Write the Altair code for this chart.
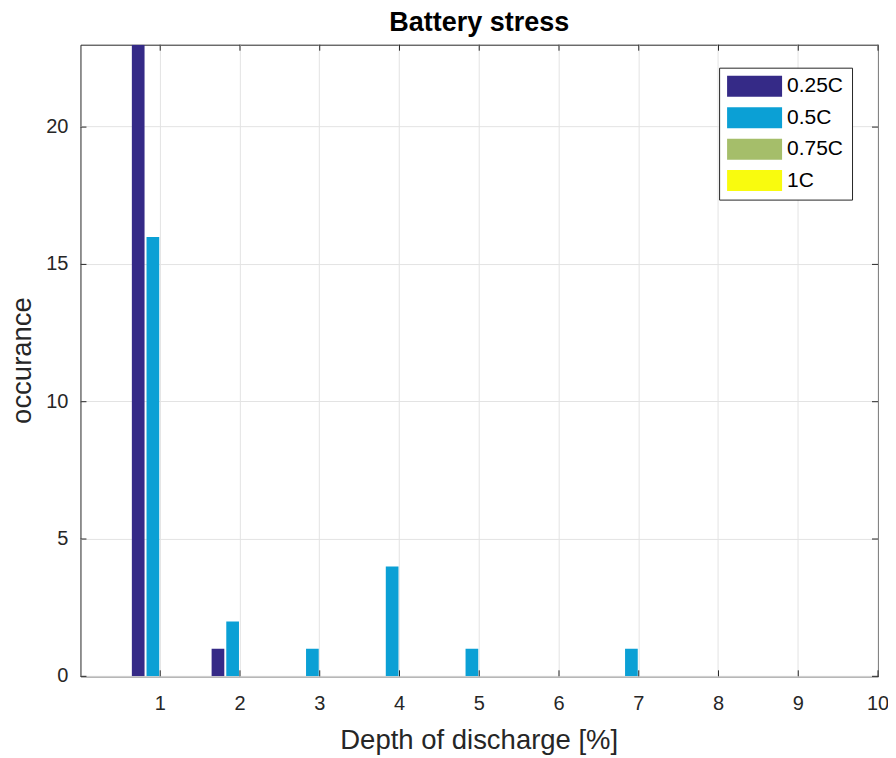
import altair as alt
import pandas as pd

# ---- data ----
dod = [1, 2, 3, 4, 5, 6, 7, 8, 9]
series = ["0.25C", "0.5C", "0.75C", "1C"]
colors = ["#352a87", "#0ba0d5", "#a5be6a", "#f9fb0e"]
c025 = [23, 1, 0, 0, 0, 0, 0, 0, 0]
c050 = [16, 2, 1, 4, 1, 0, 1, 0, 0]
c075 = [0, 0, 0, 0, 0, 0, 0, 0, 0]
c100 = [0, 0, 0, 0, 0, 0, 0, 0, 0]
x_ticks = [1, 2, 3, 4, 5, 6, 7, 8, 9, 10]
y_ticks = [0, 5, 10, 15, 20]

rows = []
for i, (name, vals) in enumerate(zip(series, [c025, c050, c075, c100])):
    for d, v in zip(dod, vals):
        rows.append({"dod": d, "series": name, "idx": i, "value": v})
df = pd.DataFrame(rows)

W, H = 798, 632
FONT = "Liberation Sans"
DARK = "#262626"

xscale = alt.Scale(domain=[0, 10], nice=False, zero=False, padding=0)
yscale = alt.Scale(domain=[0, 23], nice=False, padding=0)
xaxis = alt.Axis(values=x_ticks, title="Depth of discharge [%]", grid=True,
                 ticks=False, domain=False, labelPadding=18, titlePadding=13, format="d",
                 labelFlush=False,
                 labelFont=FONT, labelFontSize=20, labelColor=DARK,
                 titleFont=FONT, titleFontSize=27.5, titleColor=DARK, titleFontWeight="normal",
                 gridColor="#e3e3e3", gridWidth=1, translate=0)
yaxis = alt.Axis(values=y_ticks, title="occurance", grid=True,
                 ticks=False, domain=False, labelPadding=12, titlePadding=9,
                 labelFlush=False,
                 labelFont=FONT, labelFontSize=20, labelColor=DARK,
                 titleFont=FONT, titleFontSize=27.5, titleColor=DARK, titleFontWeight="normal",
                 gridColor="#e3e3e3", gridWidth=1, translate=0)

bars = alt.Chart(df).transform_calculate(
    xpos="datum.dod + (datum.idx - 1.5) * 0.184"
).mark_bar(size=12.7, clip=True).encode(
    x=alt.X("xpos:Q", scale=xscale, axis=xaxis),
    y=alt.Y("value:Q", scale=yscale, axis=yaxis),
    color=alt.Color("series:N", sort=series,
                    scale=alt.Scale(domain=series, range=colors),
                    legend=alt.Legend(title=None, orient="none", legendX=639, legendY=23,
                                      symbolType="M-1,-1H4.24V1H-1Z", symbolSize=441,
                                      symbolStrokeWidth=0, symbolOpacity=1,
                                      labelFontSize=21, labelFont=FONT, labelColor="black",
                                      labelOffset=39, rowPadding=9.5, padding=8,
                                      strokeColor=DARK, fillColor="white")),
)

xt = pd.DataFrame({"xpos": x_ticks})
yt = pd.DataFrame({"value": y_ticks})
tick_len = 6
xtick_bot = alt.Chart(xt).mark_rule(color=DARK).encode(
    x=alt.X("xpos:Q", scale=xscale, axis=xaxis), y=alt.value(H), y2=alt.value(H - tick_len))
xtick_top = alt.Chart(xt).mark_rule(color=DARK).encode(
    x=alt.X("xpos:Q", scale=xscale, axis=xaxis), y=alt.value(0), y2=alt.value(tick_len))
ytick_l = alt.Chart(yt).mark_rule(color=DARK).encode(
    y=alt.Y("value:Q", scale=yscale, axis=yaxis), x=alt.value(0), x2=alt.value(tick_len))
ytick_r = alt.Chart(yt).mark_rule(color=DARK).encode(
    y=alt.Y("value:Q", scale=yscale, axis=yaxis), x=alt.value(W), x2=alt.value(W - tick_len))

chart = alt.layer(bars, xtick_bot, xtick_top, ytick_l, ytick_r).properties(
    width=W, height=H,
    background="white",
    title=alt.TitleParams("Battery stress", font=FONT, fontSize=27, fontWeight="bold",
                          color="black", offset=7),
    autosize=alt.AutoSizeParams(type="none"),
    padding={"left": 72.5, "top": 36.5, "right": 10, "bottom": 80},
).configure_view(stroke=DARK, strokeWidth=1)

chart.save("out.html", embed_options={"renderer": "svg", "actions": False})
